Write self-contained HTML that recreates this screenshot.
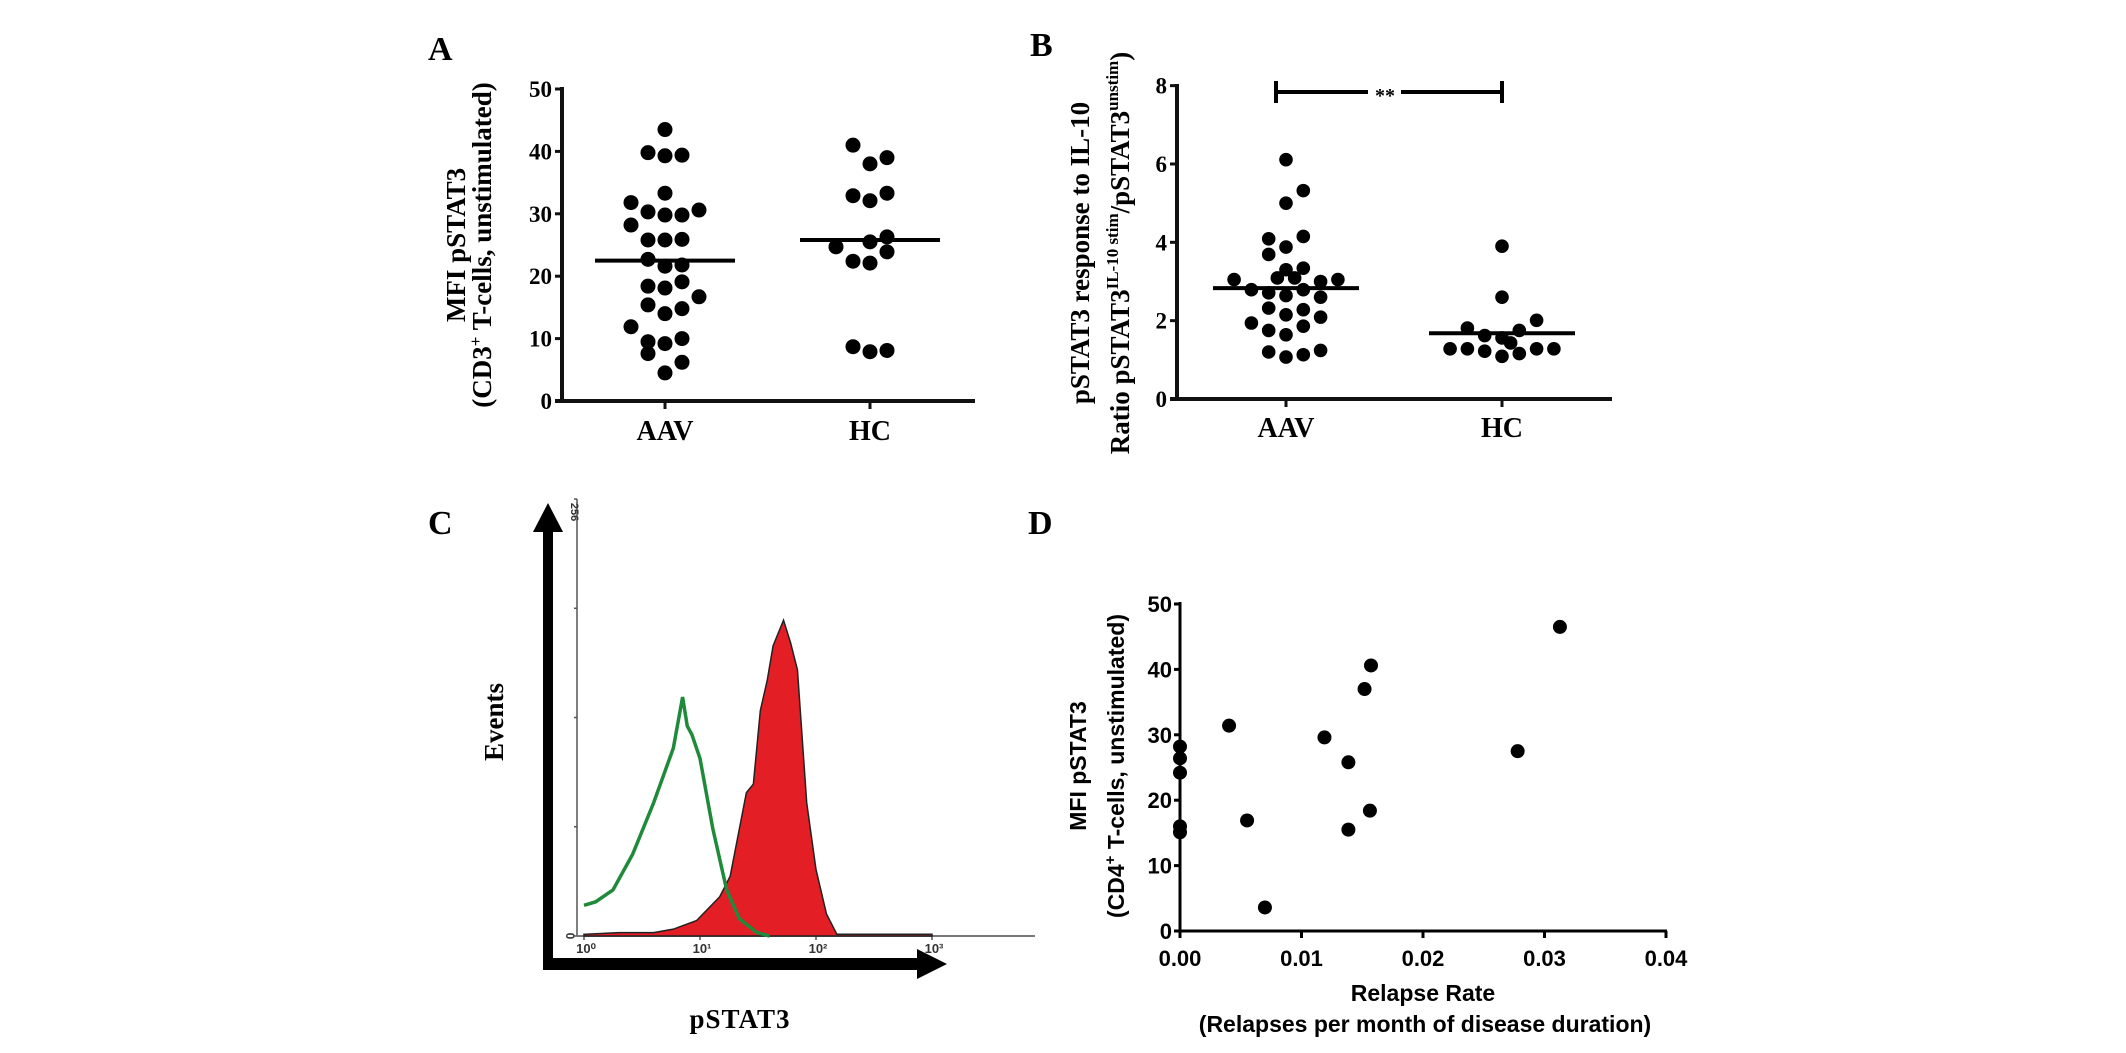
<!DOCTYPE html>
<html><head><meta charset="utf-8"><style>
html,body{margin:0;padding:0;background:#fff;}
svg{display:block;}
.serif{font-family:"Liberation Serif",serif;font-weight:bold;}
.sans{font-family:"Liberation Sans",sans-serif;font-weight:bold;}
</style></head><body>
<svg id="fig" width="2126" height="1053" viewBox="0 0 2126 1053" xmlns="http://www.w3.org/2000/svg">
<rect width="2126" height="1053" fill="#fff"/>
<g class="serif" font-size="34">
<text x="428" y="60">A</text>
<text x="1030" y="56">B</text>
<text x="428" y="534">C</text>
<text x="1028" y="534">D</text>
</g>
<g class="serif" font-size="27" text-anchor="middle">
<text transform="translate(465,245) rotate(-90)">MFI pSTAT3</text>
<text transform="translate(491,245) rotate(-90)">(CD3<tspan font-size="17" dy="-10">+</tspan><tspan dy="10"> T-cells, unstimulated)</tspan></text>
<text transform="translate(1089,253) rotate(-90)">pSTAT3 response to IL-10</text>
<text transform="translate(1129,253) rotate(-90)">Ratio pSTAT3<tspan font-size="17" dy="-11">IL-10 stim</tspan><tspan dy="11">/pSTAT3</tspan><tspan font-size="17" dy="-11">unstim</tspan><tspan dy="11">)</tspan></text>
<text transform="translate(503,722) rotate(-90)">Events</text>
<text x="740" y="1028" letter-spacing="1">pSTAT3</text>
</g>
<g class="sans" font-size="23" text-anchor="middle">
<text transform="translate(1086,766) rotate(-90)">MFI pSTAT3</text>
<text transform="translate(1124,766) rotate(-90)">(CD4<tspan font-size="15" dy="-9">+</tspan><tspan dy="9"> T-cells, unstimulated)</tspan></text>
<text x="1423" y="1001">Relapse Rate</text>
<text x="1425" y="1032">(Relapses per month of disease duration)</text>
</g>
<g id="plots"></g>
</svg>
<script>
// ---- Panel A data ----
const catsA = ["AAV","HC"];
const aavA = [43.5,39.8,39.3,39.4,33.3,31.8,30.3,29.8,29.8,30.6,28.2,25.8,25.8,25.9,22.7,21.6,21.8,18.4,18.1,19.1,16.7,15.4,14.0,14.8,11.9,9.5,9.2,10.0,7.6,6.2,4.5];
const aavASlot = [0,-1,0,1,0,-2,-1,0,1,2,-2,-1,0,1,-1,0,1,-1,0,1,2,-1,0,1,-2,-1,0,1,-1,1,0];
const hcA = [41.0,38.0,39.0,32.9,32.1,33.3,24.7,25.5,26.3,23.9,22.4,22.1,8.7,7.9,8.1];
const hcASlot = [-1,0,1,-1,0,1,-2,0,1,1,-1,0,-1,0,1];
const mediansA = [22.5,25.8];
const ticksA = [0,10,20,30,40,50];
// ---- Panel B data ----
const catsB = ["AAV","HC"];
const aavB = [6.11,5.32,5.00,4.09,4.15,3.88,3.69,3.30,3.34,3.05,3.09,3.09,3.00,3.05,2.79,2.71,2.64,2.79,2.60,2.32,2.28,2.15,2.09,1.94,1.75,1.86,1.64,1.20,1.24,1.07,1.13];
const aavBSlot = [0,1,0,-1,1,0,-1,0,1,-3,-0.5,0.5,2,3,-2,-1,0,1,2,-1,1,0,2,-2,-1,1,0,-1,2,0,1];
const hcB = [3.90,2.60,2.01,1.81,1.75,1.62,1.56,1.43,1.28,1.28,1.22,1.09,1.16,1.28,1.28];
const hcBSlot = [0,0,2,-2,1,-1,0,0.5,-3,-2,-1,0,1,2,3];
const mediansB = [2.83,1.68];
const ticksB = [0,2,4,6,8];
// ---- Panel C data (log10 fluorescence vs events) ----
const greenLog = [0,0.1,0.25,0.42,0.6,0.77,0.85,0.89,0.93,1.0,1.11,1.23,1.34,1.49,1.6];
const greenCounts = [18,20,27,48,78,110,140,123,118,104,63,27,10,2,0];
const redLog = [0,0.3,0.6,0.77,0.97,1.17,1.26,1.4,1.46,1.52,1.58,1.63,1.72,1.78,1.84,1.92,2.0,2.09,2.18,2.4,3.0];
const redCounts = [1,2,2,4,9,23,35,84,89,132,150,170,185,172,156,78,39,13,1,1,1];
const decadeLabels = ["10\u2070","10\u00b9","10\u00b2","10\u00b3"];
// ---- Panel D data ----
const relapseRate = [0,0,0,0,0,0.00404,0.00552,0.00699,0.01189,0.01386,0.01386,0.01519,0.01572,0.01563,0.02779,0.03127];
const mfiD = [28.2,26.4,24.2,16.0,15.1,31.4,16.9,3.6,29.6,25.8,15.5,37.0,40.6,18.4,27.5,46.5];
const ticksDx = [0,0.01,0.02,0.03,0.04];
const ticksDy = [0,10,20,30,40,50];

const NS = "http://www.w3.org/2000/svg";
const root = document.getElementById('plots');
function mk(tag, attrs, parent, text){
  const e = document.createElementNS(NS, tag);
  for (const k in attrs) e.setAttribute(k, attrs[k]);
  if (text !== undefined) e.textContent = text;
  (parent||root).appendChild(e);
  return e;
}

// ===== Panel A =====
(function(){
  const g = mk('g', {});
  
  
  const y = v => 401 - v * 6.24;
  const cx = [665, 870];
  const col = 17;
  let l = mk('line',{x1:562,y1:87,x2:562,y2:403,stroke:'#111','stroke-width':4},g);
  
  
  l = mk('line',{x1:555,y1:401,x2:975,y2:401,stroke:'#111','stroke-width':4},g);
  
  
  ticksA.forEach(t => {
    mk('line',{x1:555,y1:y(t),x2:562,y2:y(t),stroke:'#111','stroke-width':3},g);
    const tx = mk('text',{x:552,y:y(t)+8,'text-anchor':'end','font-size':23,class:'serif'},g,String(t));
    
    
  });
  catsA.forEach((c,i) => {
    mk('line',{x1:cx[i],y1:401,x2:cx[i],y2:409,stroke:'#111','stroke-width':3},g);
    const tx = mk('text',{x:cx[i],y:440,'text-anchor':'middle','font-size':28,class:'serif'},g,c);
    
    
  });
  [[aavA,aavASlot,0],[hcA,hcASlot,1]].forEach(([vals,slots,ci]) => {
    vals.forEach((v,i) => {
      const d = mk('circle',{cx:cx[ci]+slots[i]*col,cy:y(v),r:7.5,fill:'#000'},g);
      
      
    });
    const m = mk('line',{x1:cx[ci]-70,y1:y(mediansA[ci]),x2:cx[ci]+70,y2:y(mediansA[ci]),stroke:'#000','stroke-width':4},g);
    
    
  });
})();

// ===== Panel B =====
(function(){
  const g = mk('g', {});
  
  
  const y = v => 399 - v * 39.17;
  const cx = [1286, 1502];
  const col = 17.3;
  let l = mk('line',{x1:1177,y1:84,x2:1177,y2:401,stroke:'#111','stroke-width':4},g);
  
  
  l = mk('line',{x1:1170,y1:399,x2:1612,y2:399,stroke:'#111','stroke-width':4},g);
  
  
  ticksB.forEach(t => {
    mk('line',{x1:1170,y1:y(t),x2:1177,y2:y(t),stroke:'#111','stroke-width':3},g);
    const tx = mk('text',{x:1167,y:y(t)+8,'text-anchor':'end','font-size':23,class:'serif'},g,String(t));
    
    
  });
  catsB.forEach((c,i) => {
    mk('line',{x1:cx[i],y1:399,x2:cx[i],y2:407,stroke:'#111','stroke-width':3},g);
    const tx = mk('text',{x:cx[i],y:437,'text-anchor':'middle','font-size':28,class:'serif'},g,c);
    
    
  });
  [[aavB,aavBSlot,0],[hcB,hcBSlot,1]].forEach(([vals,slots,ci]) => {
    vals.forEach((v,i) => {
      const d = mk('circle',{cx:cx[ci]+slots[i]*col,cy:y(v),r:6.8,fill:'#000'},g);
      
      
    });
    const m = mk('line',{x1:cx[ci]-73,y1:y(mediansB[ci]),x2:cx[ci]+73,y2:y(mediansB[ci]),stroke:'#000','stroke-width':4},g);
    
    
  });
  const br = mk('g',{stroke:'#000','stroke-width':4},g);
  
  
  mk('line',{x1:1276,y1:92,x2:1368,y2:92},br);
  mk('line',{x1:1401,y1:92,x2:1502,y2:92},br);
  mk('line',{x1:1276,y1:81,x2:1276,y2:103},br);
  mk('line',{x1:1502,y1:81,x2:1502,y2:103},br);
  const st = mk('text',{x:1385,y:102,'text-anchor':'middle','font-size':20,class:'serif'},g,'**');
  
  
})();

// ===== Panel C =====
(function(){
  const g = mk('g', {});
  
  
  const x0 = 577, base = 936, top = 499;
  const xs = lg => 584 + lg * 116;
  const ys = c => base - c / 256 * (base - top);
  let a = mk('rect',{x:543,y:528,width:10,height:442,fill:'#000'},g);
  
  
  mk('polygon',{points:'533,532 548,503 563,532',fill:'#000'},g);
  a = mk('rect',{x:543,y:958,width:378,height:12,fill:'#000'},g);
  
  
  mk('polygon',{points:'917,949 947,964 917,979',fill:'#000'},g);
  let f = mk('line',{x1:x0,y1:top,x2:x0,y2:base,stroke:'#555','stroke-width':1.5},g);
  
  
  f = mk('line',{x1:x0,y1:base,x2:1035,y2:base,stroke:'#777','stroke-width':2},g);
  
  
  [0,64,128,192,256].forEach(t => mk('line',{x1:x0-3,y1:ys(t),x2:x0,y2:ys(t),stroke:'#555','stroke-width':1.5},g));
  decadeLabels.forEach((lab,i) => {
    mk('line',{x1:xs(i),y1:base,x2:xs(i),y2:base+4,stroke:'#555','stroke-width':1.5},g);
    const tx = mk('text',{x:xs(i)+2,y:base+17,'text-anchor':'middle','font-size':13,class:'sans',fill:'#333'},g,lab);
    
    
  });
  let t = mk('text',{transform:'translate(571,512) rotate(90)','font-size':11,class:'sans',fill:'#333','text-anchor':'middle'},g,'256');
  
  
  t = mk('text',{transform:'translate(566,936) rotate(90)','font-size':12,class:'sans',fill:'#333','text-anchor':'middle'},g,'0');
  
  
  let pts = [xs(redLog[0])+',' + base];
  redLog.forEach((lg,i) => pts.push(xs(lg)+','+ys(redCounts[i])));
  pts.push(xs(redLog[redLog.length-1])+','+base);
  const red = mk('polygon',{points:pts.join(' '),fill:'#e41e25',stroke:'#222','stroke-width':1.5},g);
  
  
  const gp = greenLog.map((lg,i) => xs(lg)+','+ys(greenCounts[i])).join(' ');
  const gr = mk('polyline',{points:gp,fill:'none',stroke:'#1f8a3a','stroke-width':3.5},g);
  
  
})();

// ===== Panel D =====
(function(){
  const g = mk('g', {});
  
  
  const xs = v => 1180 + v / 0.01 * 121.5;
  const ys = v => 931 - v * 6.54;
  let l = mk('line',{x1:1180,y1:602,x2:1180,y2:933,stroke:'#000','stroke-width':3},g);
  
  
  l = mk('line',{x1:1178,y1:931,x2:1667,y2:931,stroke:'#000','stroke-width':3},g);
  
  
  ticksDy.forEach(t => {
    mk('line',{x1:1174,y1:ys(t),x2:1180,y2:ys(t),stroke:'#000','stroke-width':3},g);
    const tx = mk('text',{x:1172,y:ys(t)+8,'text-anchor':'end','font-size':22,class:'sans'},g,String(t));
    
    
  });
  ticksDx.forEach(t => {
    mk('line',{x1:xs(t),y1:931,x2:xs(t),y2:938,stroke:'#000','stroke-width':3},g);
    const tx = mk('text',{x:xs(t),y:966,'text-anchor':'middle','font-size':22,class:'sans'},g,t.toFixed(2));
    
    
  });
  relapseRate.forEach((r,i) => {
    const d = mk('circle',{cx:xs(r),cy:ys(mfiD[i]),r:7,fill:'#000'},g);
    
    
  });
})();
</script>
</body></html>
